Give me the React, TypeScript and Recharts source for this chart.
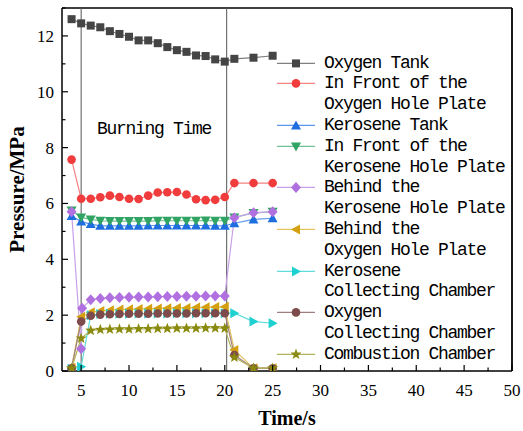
import React from 'react';
import { LineChart, Line, XAxis, YAxis, ReferenceLine, ReferenceArea, Legend } from 'recharts';

// sample times (s)
const times = [4, 5, 6, 7, 8, 9, 10, 11, 12, 13, 14, 15, 16, 17, 18, 19, 20, 21, 23, 25];
const behindKeroTimes = [4, 5, 5.1, 6, 7, 8, 9, 10, 11, 12, 13, 14, 15, 16, 17, 18, 19, 20, 21, 23, 25];

// pressures (MPa)
const oxygenTank = [12.6, 12.45, 12.37, 12.31, 12.17, 12.07, 11.97, 11.84, 11.84, 11.74, 11.6, 11.49, 11.43, 11.3, 11.28, 11.16, 11.08, 11.18, 11.22, 11.29];
const frontOxygenPlate = [7.57, 6.17, 6.17, 6.22, 6.28, 6.23, 6.17, 6.16, 6.28, 6.39, 6.4, 6.41, 6.32, 6.15, 6.12, 6.13, 6.23, 6.73, 6.73, 6.73];
const keroseneTank = [5.55, 5.35, 5.26, 5.2, 5.2, 5.2, 5.2, 5.2, 5.21, 5.21, 5.21, 5.21, 5.21, 5.21, 5.21, 5.2, 5.2, 5.29, 5.43, 5.47];
const frontKeroPlate = [5.75, 5.5, 5.43, 5.38, 5.37, 5.37, 5.37, 5.37, 5.37, 5.38, 5.38, 5.38, 5.38, 5.38, 5.39, 5.38, 5.38, 5.5, 5.66, 5.7];
const behindKeroPlate = [5.7, 0.8, 2.25, 2.55, 2.6, 2.62, 2.63, 2.64, 2.65, 2.65, 2.66, 2.67, 2.67, 2.68, 2.68, 2.69, 2.69, 2.69, 5.49, 5.67, 5.7];
const behindOxyPlate = [0.12, 1.94, 2.1, 2.15, 2.18, 2.2, 2.21, 2.22, 2.23, 2.24, 2.25, 2.26, 2.26, 2.27, 2.28, 2.29, 2.3, 0.75, 0.1, 0.1];
const keroCollect = [0.08, 0.15, 2.0, 2.04, 2.05, 2.05, 2.05, 2.06, 2.06, 2.06, 2.06, 2.07, 2.07, 2.07, 2.07, 2.07, 2.07, 2.07, 1.77, 1.71];
const oxyCollect = [0.1, 1.77, 1.98, 2.02, 2.03, 2.04, 2.05, 2.05, 2.05, 2.06, 2.06, 2.06, 2.06, 2.07, 2.07, 2.07, 2.07, 0.57, 0.1, 0.1];
const combustion = [0.1, 1.17, 1.45, 1.48, 1.49, 1.5, 1.5, 1.51, 1.51, 1.52, 1.52, 1.53, 1.53, 1.53, 1.54, 1.54, 1.53, 0.49, 0.1, 0.1];

const seriesNames = [
  'Oxygen Tank',
  'In Front of the\nOxygen Hole Plate',
  'Kerosene Tank',
  'In Front of the\nKerosene Hole Plate',
  'Behind the\nKerosene Hole Plate',
  'Behind the\nOxygen Hole Plate',
  'Kerosene\nCollecting Chamber',
  'Oxygen\nCollecting Chamber',
  'Combustion Chamber',
];

const xTicks = [5, 7.5, 10, 12.5, 15, 17.5, 20, 22.5, 25, 27.5, 30, 32.5, 35, 37.5, 40, 42.5, 45, 47.5, 50];
const yTicks = [0, 1, 2, 3, 4, 5, 6, 7, 8, 9, 10, 11, 12, 13];
const burnStart = 5;
const burnEnd = 20.2;

const series = [
  { t: times, v: oxygenTank, color: '#454545', line: '#808080', shape: 'square' },
  { t: times, v: frontOxygenPlate, color: '#f03c3c', line: '#f58080', shape: 'circle' },
  { t: times, v: keroseneTank, color: '#1e6ee0', line: '#5a96ea', shape: 'up' },
  { t: times, v: frontKeroPlate, color: '#2fa463', line: '#70c095', shape: 'down' },
  { t: behindKeroTimes, v: behindKeroPlate, color: '#b070e0', line: '#c9a0ea', shape: 'diamond' },
  { t: times, v: behindOxyPlate, color: '#d4a010', line: '#e3c460', shape: 'left' },
  { t: times, v: keroCollect, color: '#1fd0d0', line: '#60dede', shape: 'right' },
  { t: times, v: oxyCollect, color: '#7d4b4b', line: '#a07f7f', shape: 'circle' },
  { t: times, v: combustion, color: '#8a8a0e', line: '#b2b25a', shape: 'star' },
].map((s, i) => ({ ...s, name: seriesNames[i], data: s.t.map((t, j) => ({ t, p: s.v[j] })) }));

const PLOT_LEFT = 62;
const PLOT_BOTTOM = 371;
const serifFont = '"Liberation Serif", "Times New Roman", serif';
const monoFont = '"Liberation Mono", "Nimbus Mono PS", "Nimbus Mono L", FreeMono, Courier, monospace';

function Marker({ cx, cy, shape, color }: { cx: number; cy: number; shape: string; color: string }) {
  if (cx == null || cy == null) return null;
  switch (shape) {
    case 'square':
      return <rect x={cx - 4} y={cy - 4} width={8} height={8} fill={color} />;
    case 'circle':
      return <circle cx={cx} cy={cy} r={4.3} fill={color} />;
    case 'up':
      return <polygon points={`${cx},${cy - 5} ${cx + 5},${cy + 4} ${cx - 5},${cy + 4}`} fill={color} />;
    case 'down':
      return <polygon points={`${cx},${cy + 5} ${cx + 5},${cy - 4} ${cx - 5},${cy - 4}`} fill={color} />;
    case 'left':
      return <polygon points={`${cx - 5},${cy} ${cx + 4},${cy - 5} ${cx + 4},${cy + 5}`} fill={color} />;
    case 'right':
      return <polygon points={`${cx + 5},${cy} ${cx - 4},${cy - 5} ${cx - 4},${cy + 5}`} fill={color} />;
    case 'diamond':
      return <polygon points={`${cx},${cy - 5.5} ${cx + 5},${cy} ${cx},${cy + 5.5} ${cx - 5},${cy}`} fill={color} />;
    case 'star': {
      const pts: string[] = [];
      for (let k = 0; k < 10; k++) {
        const r = k % 2 === 0 ? 5.8 : 2.4;
        const a = -Math.PI / 2 + (k * Math.PI) / 5;
        pts.push(`${cx + r * Math.cos(a)},${cy + r * Math.sin(a)}`);
      }
      return <polygon points={pts.join(' ')} fill={color} />;
    }
    default:
      return null;
  }
}

function XTick(props: any) {
  const { x, payload } = props;
  const major = payload.value % 5 === 0;
  return (
    <g>
      <line x1={x} x2={x} y1={PLOT_BOTTOM} y2={PLOT_BOTTOM - (major ? 6 : 3.5)} stroke="#000" strokeWidth={1.2} />
      {major && (
        <text x={x} y={390} dy="0.35em" textAnchor="middle" fontFamily={serifFont} fontSize={17} fill="#000">
          {payload.value}
        </text>
      )}
    </g>
  );
}

function YTick(props: any) {
  const { y, payload } = props;
  const major = payload.value % 2 === 0;
  return (
    <g>
      <line x1={PLOT_LEFT} x2={PLOT_LEFT + (major ? 6 : 3.5)} y1={y} y2={y} stroke="#000" strokeWidth={1.2} />
      {major && (
        <text x={PLOT_LEFT - 8} y={y} dy="0.35em" textAnchor="end" fontFamily={serifFont} fontSize={17} fill="#000">
          {payload.value}
        </text>
      )}
    </g>
  );
}

function LegendBox() {
  return (
    <div style={{ width: 240, fontFamily: monoFont, fontSize: 18, letterSpacing: '-1.3px', lineHeight: '20.8px', color: '#000' }}>
      {series.map((s) => (
        <div key={s.name} style={{ display: 'flex' }}>
          <svg width={48} height={20.8} style={{ flex: 'none' }}>
            <line x1={1} x2={39} y1={10.4} y2={10.4} stroke={s.line} strokeWidth={1.2} />
            <Marker cx={20} cy={10.4} shape={s.shape} color={s.color} />
          </svg>
          <div style={{ whiteSpace: 'pre' }}>{s.name}</div>
        </div>
      ))}
    </div>
  );
}

export default function App() {
  return (
    <div style={{ position: 'absolute', left: 0, top: 0 }}>
      <LineChart width={523} height={431} margin={{ top: 8, right: 11, bottom: 0, left: 0 }}>
        <XAxis
          dataKey="t"
          type="number"
          domain={[3, 50]}
          ticks={xTicks}
          interval={0}
          allowDataOverflow
          axisLine={{ stroke: '#000', strokeWidth: 1.5 }}
          tickLine={false}
          tick={<XTick />}
          height={60}
          label={{ value: 'Time/s', position: 'insideBottom', offset: 6, style: { fontFamily: serifFont, fontSize: 20, fontWeight: 'bold', fill: '#000' } }}
        />
        <YAxis
          type="number"
          domain={[0, 13]}
          ticks={yTicks}
          interval={0}
          allowDataOverflow
          axisLine={{ stroke: '#000', strokeWidth: 1.5 }}
          tickLine={false}
          tick={<YTick />}
          width={62}
          label={{ value: 'Pressure/MPa', angle: -90, position: 'insideLeft', offset: 17, style: { textAnchor: 'middle', fontFamily: serifFont, fontSize: 21, fontWeight: 'bold', fill: '#000' } }}
        />
        <ReferenceLine y={13} stroke="#000" strokeWidth={1.5} />
        <ReferenceLine x={50} stroke="#000" strokeWidth={1.8} />
        <ReferenceArea
          x1={burnStart}
          x2={burnEnd}
          y1={0}
          y2={13}
          fill="none"
          stroke="none"
          label={{ value: 'Burning Time', position: 'insideTop', offset: 113, style: { fontFamily: monoFont, fontSize: 18, letterSpacing: '-1.3px', fill: '#000' } }}
        />
        <ReferenceLine x={burnStart} stroke="#555" strokeWidth={1} />
        <ReferenceLine x={burnEnd} stroke="#555" strokeWidth={1} />
        {series.map((s) => (
          <Line
            key={s.name}
            data={s.data}
            dataKey="p"
            name={s.name}
            type="linear"
            stroke={s.line}
            strokeWidth={1.2}
            isAnimationActive={false}
            activeDot={false}
            dot={(p: any) => <Marker key={`${s.name}-${p.index}`} cx={p.cx} cy={p.cy} shape={s.shape} color={s.color} />}
          />
        ))}
        <Legend
          layout="horizontal"
          verticalAlign="middle"
          align="right"
          wrapperStyle={{ position: 'absolute', left: 276, right: 'auto', top: 52.6, width: 0, height: 0, overflow: 'visible' }}
          content={() => <LegendBox />}
        />
      </LineChart>
    </div>
  );
}
